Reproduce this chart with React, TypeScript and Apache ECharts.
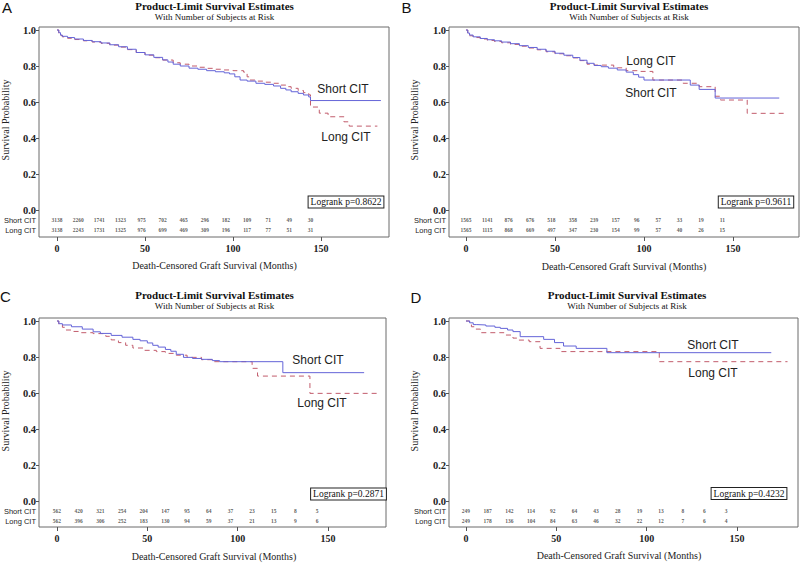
import React, { useEffect, useRef } from "react";
import * as echarts from "echarts";

// ---------- DATA ----------
const panelLetters = ["A", "B", "C", "D"];
const titleText = "Product-Limit Survival Estimates";
const subtitleText = "With Number of Subjects at Risk";
const xTitle = "Death-Censored Graft Survival (Months)";
const yTitle = "Survival Probability";
const groupNames = ["Short CIT", "Long CIT"];
const logrankP = ["0.8622", "0.9611", "0.2871", "0.4232"];

const xTicks = [0, 50, 100, 150];
const yTicks = [0, 0.2, 0.4, 0.6, 0.8, 1.0];
const atRiskMonths = [0, 12, 24, 36, 48, 60, 72, 84, 96, 108, 120, 132, 144];

// survival curves [month, probability]
const shortA = [[0,1.0],[1,0.985],[2,0.972],[3,0.965],[6,0.958],[10,0.95],[15,0.942],[20,0.935],[25,0.928],[30,0.918],[35,0.907],[40,0.893],[45,0.875],[50,0.862],[55,0.848],[60,0.834],[63,0.822],[66,0.81],[70,0.8],[75,0.788],[80,0.782],[85,0.774],[90,0.768],[95,0.762],[98,0.756],[101,0.74],[104,0.722],[108,0.716],[113,0.704],[118,0.698],[123,0.689],[127,0.676],[130,0.667],[133,0.657],[137,0.648],[140,0.639],[143,0.628],[144,0.608],[184,0.608]];
const longA = [[0,1.0],[1,0.982],[2,0.97],[3,0.962],[6,0.954],[10,0.947],[15,0.94],[20,0.933],[25,0.926],[30,0.916],[35,0.905],[40,0.891],[45,0.875],[50,0.86],[55,0.846],[60,0.833],[66,0.818],[70,0.81],[75,0.8],[80,0.793],[85,0.787],[90,0.782],[94,0.778],[100,0.774],[106,0.766],[108,0.74],[109,0.722],[113,0.716],[118,0.71],[123,0.704],[127,0.694],[130,0.685],[133,0.676],[137,0.664],[140,0.652],[143,0.64],[144,0.572],[149,0.538],[154,0.518],[163,0.49],[166,0.466],[182,0.466]];
const shortB = [[0,1.0],[1,0.983],[2,0.972],[4,0.962],[8,0.953],[12,0.946],[16,0.94],[20,0.933],[25,0.924],[30,0.913],[35,0.903],[40,0.893],[45,0.882],[50,0.871],[55,0.86],[60,0.847],[64,0.832],[68,0.815],[72,0.803],[76,0.796],[80,0.788],[85,0.778],[90,0.766],[94,0.752],[97,0.738],[100,0.722],[126,0.694],[131,0.67],[140,0.622],[176,0.622]];
const longB = [[0,1.0],[1,0.98],[2,0.968],[4,0.958],[8,0.95],[12,0.942],[16,0.936],[20,0.929],[25,0.92],[30,0.91],[35,0.9],[40,0.89],[45,0.879],[50,0.868],[55,0.857],[60,0.845],[64,0.83],[68,0.81],[72,0.805],[83,0.79],[90,0.774],[98,0.77],[105,0.722],[122,0.704],[131,0.685],[140,0.632],[143,0.611],[158,0.537],[180,0.537]];
const shortC = [[0,1.0],[1,0.985],[3,0.978],[8,0.968],[14,0.955],[20,0.94],[24,0.931],[30,0.92],[36,0.91],[42,0.898],[46,0.89],[50,0.878],[53,0.865],[56,0.855],[60,0.842],[63,0.832],[66,0.815],[70,0.798],[75,0.792],[80,0.787],[86,0.78],[90,0.774],[125,0.713],[170,0.713]];
const longC = [[0,1.0],[1,0.978],[3,0.965],[5,0.95],[9,0.942],[13,0.935],[20,0.93],[27,0.915],[30,0.895],[34,0.88],[38,0.865],[42,0.85],[48,0.837],[55,0.83],[60,0.82],[66,0.81],[72,0.798],[80,0.785],[86,0.774],[108,0.737],[111,0.694],[140,0.598],[179,0.598]];
const shortD = [[0,1.0],[2,0.99],[4,0.98],[6,0.978],[11,0.972],[16,0.965],[19,0.959],[23,0.95],[26,0.941],[30,0.913],[43,0.898],[49,0.88],[54,0.861],[61,0.848],[78,0.824],[169,0.824]];
const longD = [[0,1.0],[2,0.985],[3,0.968],[5,0.955],[8,0.935],[21,0.922],[26,0.905],[29,0.894],[35,0.885],[41,0.848],[52,0.83],[107,0.774],[178,0.774]];

// numbers at risk
const riskShortA = [3138, 2260, 1741, 1323, 975, 702, 465, 296, 182, 109, 71, 49, 30];
const riskLongA = [3138, 2243, 1731, 1325, 976, 699, 469, 309, 196, 117, 77, 51, 31];
const riskShortB = [1565, 1141, 876, 676, 518, 358, 239, 157, 96, 57, 33, 19, 11];
const riskLongB = [1565, 1115, 868, 669, 497, 347, 230, 154, 99, 57, 40, 26, 15];
const riskShortC = [562, 420, 321, 254, 204, 147, 95, 64, 37, 23, 15, 8, 5];
const riskLongC = [562, 396, 306, 252, 183, 130, 94, 59, 37, 21, 13, 9, 6];
const riskShortD = [249, 187, 142, 114, 92, 64, 43, 28, 19, 13, 8, 6, 3];
const riskLongD = [249, 178, 136, 104, 84, 63, 46, 32, 22, 12, 7, 6, 4];

const shortCurves = [shortA, shortB, shortC, shortD];
const longCurves = [longA, longB, longC, longD];
const riskShort = [riskShortA, riskShortB, riskShortC, riskShortD];
const riskLong = [riskLongA, riskLongB, riskLongC, riskLongD];

// ---------- LAYOUT ----------
const grids = [
  { left: 39, top: 27, width: 350, height: 210, xmin: -10.23, xmax: 188.6, ymin: -0.15 },
  { left: 449, top: 27, width: 350, height: 210, xmin: -9.55, xmax: 187.1, ymin: -0.15 },
  { left: 39, top: 318, width: 347, height: 209, xmin: -9.96, xmax: 182.1, ymin: -0.1444 },
  { left: 449, top: 318, width: 349, height: 209, xmin: -9.41, xmax: 183.8, ymin: -0.1444 },
];
const YMAX = 1.01667;
const ROW_SHORT = -0.057;
const ROW_LONG = -0.113;

const labelPos = [
  { short: [343, 89], long: [346, 137], p: [346, 202], title: [214.5, 265] },
  { short: [651, 93], long: [651, 61], p: [756, 202], title: [624, 266] },
  { short: [318, 360], long: [322, 403], p: [348.5, 494], title: [214, 556] },
  { short: [713, 345], long: [713, 373], p: [749, 493.5], title: [619, 555] },
];
const headPos = [
  { letter: [7, 7], title: [214.5, 5.5], sub: [214.5, 16.5], ytitle: [5, 120] },
  { letter: [406.5, 7], title: [629, 5.5], sub: [629, 16.5], ytitle: [414, 120] },
  { letter: [5.5, 296], title: [214.5, 295], sub: [214.5, 305.5], ytitle: [5, 411] },
  { letter: [416, 297], title: [627, 295], sub: [627, 305.5], ytitle: [414, 411] },
];

const SERIF = "'Liberation Serif', 'Times New Roman', serif";
const SANS = "'Liberation Sans', Arial, sans-serif";
const BLUE = "#6464d8";
const RED = "#c25c6c";

export default function App() {
  const ref = useRef<HTMLDivElement>(null);
  useEffect(() => {
    document.body.style.margin = "0";
    if (!ref.current) return;
    const chart = echarts.init(ref.current, null, { renderer: "svg" });

    const xAxes: any[] = [];
    const yAxes: any[] = [];
    const series: any[] = [];
    const graphics: any[] = [];

    grids.forEach((g, i) => {
      xAxes.push({
        type: "value", gridIndex: i, min: g.xmin, max: g.xmax, position: "bottom",
        axisLine: { show: false, onZero: false },
        splitLine: { show: false },
        axisTick: { show: true, customValues: xTicks, length: 4, lineStyle: { color: "#555" } },
        axisLabel: { customValues: xTicks, margin: 6, fontFamily: SERIF, fontSize: 10, fontWeight: "bold", color: "#222" },
      });
      yAxes.push({
        type: "value", gridIndex: i, min: g.ymin, max: YMAX, position: "left",
        axisLine: { show: false, onZero: false },
        splitLine: { show: false },
        axisTick: { show: true, customValues: yTicks, length: 3, lineStyle: { color: "#555" } },
        axisLabel: { customValues: yTicks, margin: 3, fontFamily: SERIF, fontSize: 10.5, fontWeight: "bold", color: "#222", formatter: (v: number) => v.toFixed(1) },
      });
      series.push({
        type: "line", name: groupNames[0], xAxisIndex: i, yAxisIndex: i, step: "end",
        data: shortCurves[i], showSymbol: false, lineStyle: { color: BLUE, width: 1 }, itemStyle: { color: BLUE }, z: 3,
      });
      series.push({
        type: "line", name: groupNames[1], xAxisIndex: i, yAxisIndex: i, step: "end",
        data: longCurves[i], showSymbol: false, lineStyle: { color: RED, width: 1, type: [5, 4] }, itemStyle: { color: RED }, z: 2,
      });
      const riskSeries = (vals: number[], row: number) => ({
        type: "scatter", xAxisIndex: i, yAxisIndex: i, silent: true,
        data: atRiskMonths.map((m, j) => [m, row, vals[j]]),
        symbol: "circle", symbolSize: 1, itemStyle: { color: "rgba(0,0,0,0)" },
        label: {
          show: true, position: "inside", formatter: (p: any) => String(p.value[2]),
          fontFamily: SERIF, fontSize: 5.5, fontWeight: "bold", color: "#333",
        },
      });
      series.push(riskSeries(riskShort[i], ROW_SHORT));
      series.push(riskSeries(riskLong[i], ROW_LONG));

      // row labels of at-risk table
      const yOf = (v: number) => g.top + ((YMAX - v) / (YMAX - g.ymin)) * g.height;
      graphics.push({ type: "text", x: g.left - 3, y: yOf(ROW_SHORT), style: { text: groupNames[0], font: `7.5px ${SANS}`, fill: "#222", textAlign: "right", textVerticalAlign: "middle" } });
      graphics.push({ type: "text", x: g.left - 3, y: yOf(ROW_LONG), style: { text: groupNames[1], font: `7.5px ${SANS}`, fill: "#222", textAlign: "right", textVerticalAlign: "middle" } });

      const lp = labelPos[i];
      graphics.push({ type: "text", x: lp.short[0], y: lp.short[1], style: { text: groupNames[0], font: `12px ${SANS}`, fill: "#222", textAlign: "center", textVerticalAlign: "middle" } });
      graphics.push({ type: "text", x: lp.long[0], y: lp.long[1], style: { text: groupNames[1], font: `12px ${SANS}`, fill: "#222", textAlign: "center", textVerticalAlign: "middle" } });
      graphics.push({
        type: "text", x: lp.p[0], y: lp.p[1],
        style: {
          text: `Logrank p=${logrankP[i]}`, font: `9.5px ${SERIF}`, fill: "#111",
          textAlign: "center", textVerticalAlign: "middle",
          borderColor: "#222", borderWidth: 1, padding: [1, 2, 0, 2], backgroundColor: "#fff",
        },
      });
      graphics.push({ type: "text", x: lp.title[0], y: lp.title[1], style: { text: xTitle, font: `10px ${SERIF}`, fill: "#222", textAlign: "center", textVerticalAlign: "middle" } });

      const hp = headPos[i];
      graphics.push({ type: "text", x: hp.letter[0], y: hp.letter[1], style: { text: panelLetters[i], font: `15px ${SANS}`, fill: "#111", textAlign: "center", textVerticalAlign: "middle" } });
      graphics.push({ type: "text", x: hp.title[0], y: hp.title[1], style: { text: titleText, font: `bold 11px ${SERIF}`, fill: "#111", textAlign: "center", textVerticalAlign: "middle" } });
      graphics.push({ type: "text", x: hp.sub[0], y: hp.sub[1], style: { text: subtitleText, font: `9px ${SERIF}`, fill: "#111", textAlign: "center", textVerticalAlign: "middle" } });
      graphics.push({ type: "text", x: hp.ytitle[0], y: hp.ytitle[1], rotation: Math.PI / 2, style: { text: yTitle, font: `10px ${SERIF}`, fill: "#222", textAlign: "center", textVerticalAlign: "middle" } });
    });

    chart.setOption({
      animation: false,
      backgroundColor: "#ffffff",
      grid: grids.map((g) => ({ left: g.left, top: g.top, width: g.width, height: g.height, show: true, borderColor: "#6a6a6a", borderWidth: 1, containLabel: false })),
      xAxis: xAxes,
      yAxis: yAxes,
      series,
      graphic: graphics,
    });
    return () => chart.dispose();
  }, []);
  return <div ref={ref} style={{ width: 800, height: 563 }} />;
}
